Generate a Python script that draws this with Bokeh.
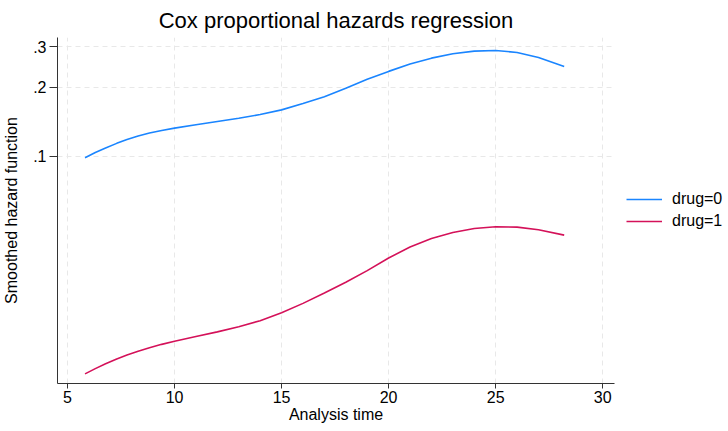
from bokeh.plotting import figure
from bokeh.models import (ColumnDataSource, FixedTicker, Range1d, Legend, LegendItem)
from bokeh.embed import file_html
from bokeh.resources import INLINE

# ---- data ----
analysis_time = [5.82, 6.3, 6.78, 7.3, 7.78, 8.3, 8.83, 9.4, 10.0, 11.0, 12.0, 13.0, 14.0,
                 15.0, 16.0, 17.0, 18.0, 19.0, 20.0, 21.0, 22.0, 23.0, 24.0, 25.0, 26.0,
                 27.0, 28.2]
hazard_drug0 = [0.0987, 0.1040, 0.1088, 0.1140, 0.1185, 0.1228, 0.1265, 0.1298, 0.1328,
                0.1375, 0.1420, 0.1466, 0.1522, 0.1595, 0.1700, 0.1820, 0.1980, 0.2167,
                0.2347, 0.2525, 0.2680, 0.2800, 0.2875, 0.2895, 0.2838, 0.2700, 0.2467]
hazard_drug1 = [0.01129, 0.01190, 0.01250, 0.01312, 0.01365, 0.01418, 0.01468, 0.01518,
                0.01566, 0.01642, 0.01720, 0.01810, 0.01925, 0.02085, 0.02290, 0.02540,
                0.02830, 0.03180, 0.03610, 0.04030, 0.04390, 0.04660, 0.04850, 0.04940,
                0.04920, 0.04790, 0.04540]
series_labels = ["drug=0", "drug=1"]
x_ticks = [5, 10, 15, 20, 25, 30]
y_ticks = [0.1, 0.2, 0.3]
y_tick_labels = [".1", ".2", ".3"]

title_text = "Cox proportional hazards regression"
x_label = "Analysis time"
y_label = "Smoothed hazard function"

FONT = "Liberation Sans"
colors = ["#1a85ff", "#d41159"]

src = ColumnDataSource(dict(t=analysis_time, h0=hazard_drug0, h1=hazard_drug1))

p = figure(frame_width=557, frame_height=346, output_backend="svg", toolbar_location=None,
           y_axis_type="log",
           x_range=Range1d(4.534, 30.55), y_range=Range1d(0.01025, 0.3297),
           min_border_left=54, min_border_right=108, min_border_top=31,
           min_border_bottom=38)
p.border_fill_color = "white"

p.title.text = title_text
p.title.text_font = FONT
p.title.text_font_size = "22px"
p.title.text_font_style = "normal"
p.title.align = "center"
p.title.text_color = "#000000"

r0 = p.line("t", "h0", source=src, line_color=colors[0], line_width=1.6)
r1 = p.line("t", "h1", source=src, line_color=colors[1], line_width=1.6)

p.outline_line_color = None
p.background_fill_color = "white"

# grids
for g in (p.xgrid[0], p.ygrid[0]):
    g.grid_line_color = "#e8e8e8"
    g.grid_line_dash = "5 4"
    g.grid_line_width = 1
p.xgrid[0].ticker = FixedTicker(ticks=x_ticks)
p.ygrid[0].ticker = FixedTicker(ticks=y_ticks)

# axes
xa = p.xaxis[0]
ya = p.yaxis[0]
xa.ticker = FixedTicker(ticks=x_ticks)
ya.ticker = FixedTicker(ticks=y_ticks)
ya.major_label_overrides = {v: s for v, s in zip(y_ticks, y_tick_labels)}
xa.axis_label = x_label
ya.axis_label = y_label
for ax in (xa, ya):
    ax.axis_line_color = "#333333"
    ax.major_tick_line_color = "#333333"
    ax.minor_tick_line_color = None
    ax.major_label_text_font = FONT
    ax.major_label_text_font_size = "16px"
    ax.major_label_text_color = "#000000"
    ax.axis_label_text_font = FONT
    ax.axis_label_text_font_size = "16px"
    ax.axis_label_text_font_style = "normal"
    ax.axis_label_text_color = "#000000"
    ax.major_tick_in = 0
xa.major_tick_out = 5
xa.major_label_standoff = 2
xa.axis_label_standoff = 0
ya.major_tick_out = 8
ya.major_label_standoff = 3
ya.axis_label_standoff = 10
ya.major_label_orientation = "horizontal"

legend = Legend(items=[LegendItem(label=series_labels[0], renderers=[r0]),
                       LegendItem(label=series_labels[1], renderers=[r1])],
                location=(12, 152), orientation="vertical")
legend.border_line_alpha = 0
legend.background_fill_alpha = 0
legend.label_text_font = FONT
legend.label_text_font_size = "16px"
legend.label_text_color = "#000000"
legend.glyph_width = 36
legend.glyph_height = 20
legend.label_height = 20
legend.label_standoff = 10
legend.spacing = 2
legend.padding = 0
legend.margin = 0
p.add_layout(legend, "right")

open("out.html", "w").write(file_html(p, INLINE))
